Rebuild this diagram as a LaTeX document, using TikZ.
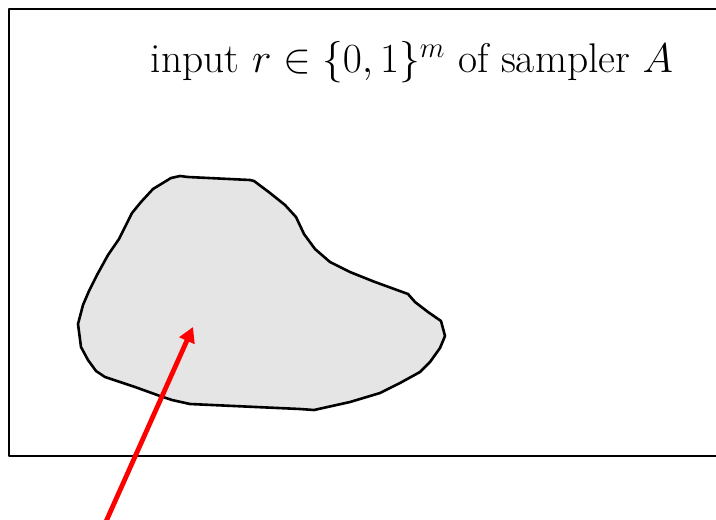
\documentclass[tikz,border=0pt]{standalone}
\usepackage{amsmath,amssymb}
\usepackage{tikz}
\usetikzlibrary{calc}
\usetikzlibrary{arrows.meta}

\begin{document}
\begin{tikzpicture}[x=0.5pt,y=-0.5pt,line join=round]
        \useasboundingbox (0,0) rectangle (716,519);
        % \draw (0,0) rectangle (716,519);
        \draw[line width=1.4pt] (9,9) rectangle (730,456);
        \node (title) at (412,62) {\huge input $r\in\{0,1\}^m$ of sampler $A$};

        \draw[line width=1.3pt,fill=black!10] (171,178) -- (180,176) -- (188,177) -- (250,180) -- (254,181)
            -- (270,193) -- (285,205) -- (296,217) -- (304,234) -- (315,249) -- (330,262) -- (350,272)
            -- (375,282) -- (408,294) -- (415,302) -- (428,312) -- (441,321) -- (445,336) -- (440,348)
            -- (430,362) -- (420,372) -- (400,383) -- (380,393) -- (350,402) -- (314,410) -- (300,409)
            -- (190,404) -- (172,400) -- (160,396) -- (135,387) -- (105,377) -- (96,371) -- (88,360)
            -- (81,347) -- (78,324) -- (83,305) -- (89,291) -- (97,275) -- (108,255) -- (119,239)
            -- (132,213) -- (141,202) -- (153,189) -- cycle;

        \coordinate (tip) at (193,327);
        \coordinate (tail) at (104,526);
        \draw[red,line width=2.4pt,-{Triangle[length=7.5pt,width=8pt]}] (tail) -- (tip);
\end{tikzpicture}
\end{document}
